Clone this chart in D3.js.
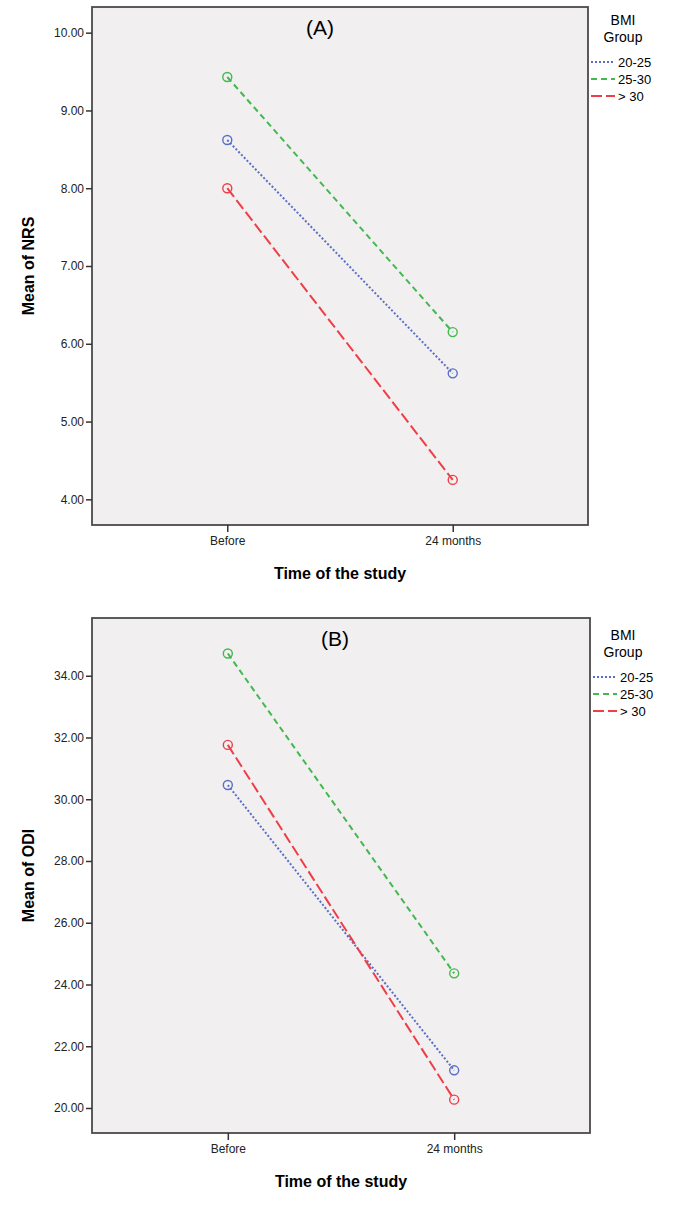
<!DOCTYPE html>
<html>
<head>
<meta charset="utf-8">
<script src="https://cdn.jsdelivr.net/npm/d3@7"></script>
<style>
  body { margin: 0; background: #fff; }
  text { font-family: "Liberation Sans", Arial, sans-serif; }
</style>
</head>
<body>
<div id="chart"></div>
<script>
var svgWidth = 673;
var svgHeight = 1209;

// categories and groups
var times = ["Before", "24 months"];
var groups = ["20-25", "25-30", "> 30"];

// Panel A: mean NRS per group (Before, 24 months)
var nrs2025 = [8.62, 5.62];
var nrs2530 = [9.43, 6.15];
var nrsOver30 = [8.00, 4.25];
var nrsTicks = [4, 5, 6, 7, 8, 9, 10];

// Panel B: mean ODI per group (Before, 24 months)
var odi2025 = [30.46, 21.22];
var odi2530 = [34.72, 24.36];
var odiOver30 = [31.76, 20.27];
var odiTicks = [20, 22, 24, 26, 28, 30, 32, 34];

var colors = ["#5a6fc4", "#43b84f", "#ee3e47"];
var dashes = ["2,2", "6,4", "11,4"];

var svg = d3.select("#chart")
    .append("svg")
    .attr("width", svgWidth)
    .attr("height", svgHeight);

function drawPanel(opts) {
    var g = svg.append("g");
    var left = opts.left, right = opts.right, top = opts.top, bottom = opts.bottom;

    var x = d3.scalePoint()
        .domain(times)
        .range([left, right])
        .padding(0.6);

    var y = d3.scaleLinear()
        .domain(opts.yDomain)
        .range([bottom, top]);

    // plot background + frame
    g.append("rect")
        .attr("x", left)
        .attr("y", top)
        .attr("width", right - left)
        .attr("height", bottom - top)
        .attr("fill", "#f1eff0")
        .attr("stroke", "#4a4a4a")
        .attr("stroke-width", 1.8);

    // y axis
    var yAxis = g.append("g")
        .attr("transform", `translate(${left}, 0)`)
        .call(d3.axisLeft(y).tickValues(opts.ticks).tickFormat(d3.format(".2f")).tickSize(6).tickPadding(2));
    yAxis.select(".domain").remove();
    yAxis.selectAll("line").attr("stroke", "#333").attr("stroke-width", 1.5);
    yAxis.selectAll("text").style("font-size", "12px").attr("fill", "#222");

    // x axis
    var xAxis = g.append("g")
        .attr("transform", `translate(0, ${bottom})`)
        .call(d3.axisBottom(x).tickSize(7).tickPadding(4));
    xAxis.select(".domain").remove();
    xAxis.selectAll("line").attr("stroke", "#333").attr("stroke-width", 1.5);
    xAxis.selectAll("text").style("font-size", "12px").attr("fill", "#222");

    // axis titles
    g.append("text")
        .attr("x", (left + right) / 2)
        .attr("y", bottom + 54)
        .attr("text-anchor", "middle")
        .style("font-size", "16px")
        .style("font-weight", "bold")
        .text("Time of the study");

    g.append("text")
        .attr("transform", `translate(34, ${(top + bottom) / 2}) rotate(-90)`)
        .attr("text-anchor", "middle")
        .style("font-size", "16px")
        .style("font-weight", "bold")
        .text(opts.yTitle);

    // panel label
    g.append("text")
        .attr("x", opts.labelX)
        .attr("y", top + 28)
        .attr("text-anchor", "middle")
        .style("font-size", "21px")
        .text(opts.label);

    // lines and markers
    var line = d3.line()
        .x((d, i) => x(times[i]))
        .y(d => y(d));

    opts.series.forEach(function(vals, k) {
        g.append("path")
            .datum(vals)
            .attr("d", line)
            .attr("fill", "none")
            .attr("stroke", colors[k])
            .attr("stroke-width", 2)
            .attr("stroke-dasharray", dashes[k]);

        g.selectAll(".pt" + k)
            .data(vals)
            .enter()
            .append("circle")
            .attr("cx", (d, i) => x(times[i]))
            .attr("cy", d => y(d))
            .attr("r", 4.5)
            .attr("fill", "none")
            .attr("stroke", colors[k])
            .attr("stroke-width", 1.4);
    });

    // legend
    var lg = g.append("g");
    lg.append("text")
        .attr("x", 623)
        .attr("y", opts.legTop)
        .attr("text-anchor", "middle")
        .style("font-size", "14px")
        .text("BMI");
    lg.append("text")
        .attr("x", 623)
        .attr("y", opts.legTop + 17)
        .attr("text-anchor", "middle")
        .style("font-size", "14px")
        .text("Group");

    groups.forEach(function(name, k) {
        var yy = opts.legTop + 42 + k * 17;
        lg.append("line")
            .attr("x1", right + 3)
            .attr("x2", right + 27)
            .attr("y1", yy - 5)
            .attr("y2", yy - 5)
            .attr("stroke", colors[k])
            .attr("stroke-width", 2)
            .attr("stroke-dasharray", dashes[k]);
        lg.append("text")
            .attr("x", right + 30)
            .attr("y", yy)
            .style("font-size", "13px")
            .text(name);
    });
}

drawPanel({
    left: 92, right: 588, top: 7, bottom: 525,
    yDomain: [3.67, 10.33],
    ticks: nrsTicks,
    yTitle: "Mean of NRS",
    label: "(A)",
    labelX: 320,
    legTop: 25,
    series: [nrs2025, nrs2530, nrsOver30]
});

drawPanel({
    left: 92, right: 590, top: 618, bottom: 1133,
    yDomain: [19.19, 35.87],
    ticks: odiTicks,
    yTitle: "Mean of ODI",
    label: "(B)",
    labelX: 335,
    legTop: 640,
    series: [odi2025, odi2530, odiOver30]
});
</script>
</body>
</html>
